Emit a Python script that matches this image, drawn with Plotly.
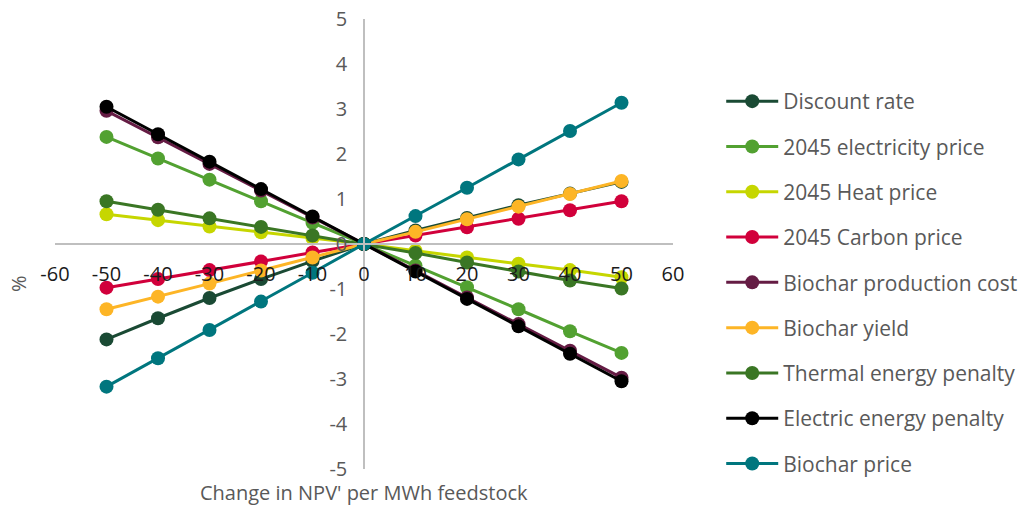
import plotly.graph_objects as go

x_change = [-50, -40, -30, -20, -10, 0, 10, 20, 30, 40, 50]

discount_rate = [-2.12, -1.65, -1.2, -0.78, -0.38, 0, 0.3, 0.58, 0.86, 1.12, 1.38]
electricity_price = [2.38, 1.9, 1.43, 0.95, 0.47, 0, -0.48, -0.96, -1.45, -1.94, -2.42]
heat_price = [0.66, 0.53, 0.39, 0.26, 0.13, 0, -0.15, -0.3, -0.44, -0.58, -0.74]
carbon_price = [-0.97, -0.78, -0.58, -0.39, -0.19, 0, 0.19, 0.37, 0.56, 0.75, 0.95]
production_cost = [2.96, 2.37, 1.78, 1.19, 0.59, 0, -0.59, -1.19, -1.78, -2.37, -2.97]
biochar_yield = [-1.45, -1.17, -0.88, -0.59, -0.3, 0, 0.27, 0.55, 0.83, 1.11, 1.4]
thermal_penalty = [0.95, 0.76, 0.57, 0.38, 0.19, 0, -0.2, -0.41, -0.61, -0.81, -0.99]
electric_penalty = [3.05, 2.44, 1.83, 1.22, 0.61, 0, -0.61, -1.22, -1.83, -2.44, -3.05]
biochar_price = [-3.17, -2.54, -1.91, -1.28, -0.64, 0, 0.62, 1.25, 1.88, 2.51, 3.14]

series = [
    ("Discount rate", discount_rate, "#1a4a34"),
    ("2045 electricity price", electricity_price, "#52a131"),
    ("2045 Heat price", heat_price, "#c6d600"),
    ("2045 Carbon price", carbon_price, "#d1003b"),
    ("Biochar production cost", production_cost, "#651c44"),
    ("Biochar yield", biochar_yield, "#fdb526"),
    ("Thermal energy penalty", thermal_penalty, "#3a7624"),
    ("Electric energy penalty", electric_penalty, "#000000"),
    ("Biochar price", biochar_price, "#00767e"),
]

x_ticks = [-60, -50, -40, -30, -20, -10, 0, 10, 20, 30, 40, 50, 60]
y_ticks = [-5, -4, -3, -2, -1, 0, 1, 2, 3, 4, 5]

FONT = "Open Sans"
fig = go.Figure()
for name, vals, col in series:
    fig.add_trace(go.Scatter(
        x=x_change, y=vals, name=name, mode="lines+markers",
        line=dict(color=col, width=3),
        marker=dict(color=col, size=14),
        legendgroup=name,
    ))

fig.update_layout(
    width=1023, height=506,
    margin=dict(l=55, r=350, t=19, b=37),
    paper_bgcolor="white", plot_bgcolor="white",
    font=dict(family=FONT, size=19, color="#595959"),
    showlegend=True,
    legend=dict(
        xref="container", yref="container",
        x=0.705, y=1 - 81 / 506, xanchor="left", yanchor="top",
        font=dict(family=FONT, size=21, color="#595959"),
        tracegroupgap=15, itemwidth=52, maxheight=495,
        bgcolor="rgba(0,0,0,0)",
    ),
    xaxis=dict(
        range=[-60, 60], tickvals=x_ticks, ticktext=[str(v) for v in x_ticks],
        anchor="free", position=0.5, automargin=False,
        showline=True, linecolor="#bfbfbf", linewidth=1.5,
        showgrid=False, zeroline=False, ticks="",
        tickfont=dict(family=FONT, size=20, color="#1a1a1a"),
        ticklabelstandoff=12,
    ),
    yaxis=dict(
        range=[-5, 5], tickvals=y_ticks, ticktext=[str(v) for v in y_ticks],
        anchor="free", position=0.5, automargin=False,
        showline=True, linecolor="#bfbfbf", linewidth=1.5,
        showgrid=False, zeroline=False, ticks="",
        tickfont=dict(family=FONT, size=20, color="#595959"),
        ticklabelstandoff=12,
    ),
    annotations=[
        dict(text="Change in NPV' per MWh feedstock", xref="paper", yref="paper",
             x=0.5, y=-0.0533, xanchor="center", yanchor="middle", showarrow=False,
             font=dict(family=FONT, size=20, color="#595959")),
        dict(text="%", xref="paper", yref="paper",
             x=-0.06, y=0.413, xanchor="center", yanchor="middle",
             showarrow=False, textangle=-90,
             font=dict(family=FONT, size=20, color="#595959")),
    ],
)

fig.write_html("out.html")
